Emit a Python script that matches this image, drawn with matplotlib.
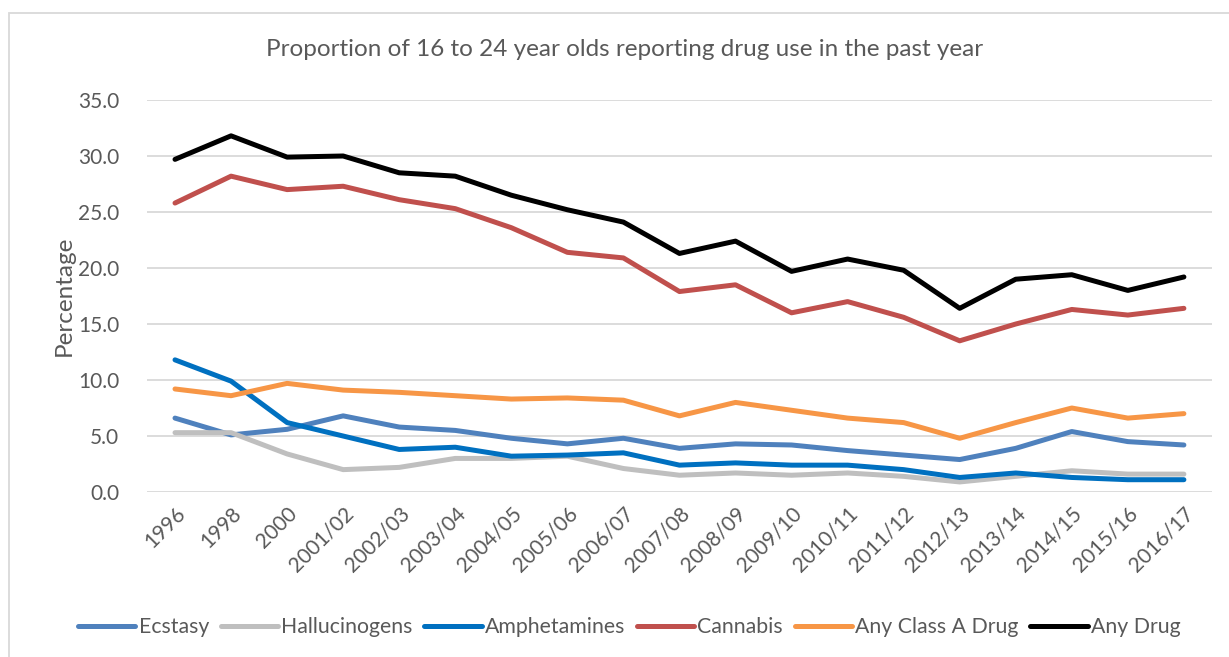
import matplotlib.pyplot as plt
from matplotlib.patches import Rectangle

# Survey years (x categories)
years = ["1996", "1998", "2000", "2001/02", "2002/03", "2003/04", "2004/05",
         "2005/06", "2006/07", "2007/08", "2008/09", "2009/10", "2010/11",
         "2011/12", "2012/13", "2013/14", "2014/15", "2015/16", "2016/17"]

# Percent reporting use in past year
ecstasy = [6.6, 5.1, 5.6, 6.8, 5.8, 5.5, 4.8, 4.3, 4.8, 3.9, 4.3, 4.2, 3.7,
           3.3, 2.9, 3.9, 5.4, 4.5, 4.2]
hallucinogens = [5.3, 5.3, 3.4, 2.0, 2.2, 3.0, 3.0, 3.2, 2.1, 1.5, 1.7, 1.5,
                 1.7, 1.4, 0.9, 1.4, 1.9, 1.6, 1.6]
amphetamines = [11.8, 9.9, 6.2, 5.0, 3.8, 4.0, 3.2, 3.3, 3.5, 2.4, 2.6, 2.4,
                2.4, 2.0, 1.3, 1.7, 1.3, 1.1, 1.1]
cannabis = [25.8, 28.2, 27.0, 27.3, 26.1, 25.3, 23.6, 21.4, 20.9, 17.9, 18.5,
            16.0, 17.0, 15.6, 13.5, 15.0, 16.3, 15.8, 16.4]
class_a = [9.2, 8.6, 9.7, 9.1, 8.9, 8.6, 8.3, 8.4, 8.2, 6.8, 8.0, 7.3, 6.6,
           6.2, 4.8, 6.2, 7.5, 6.6, 7.0]
any_drug = [29.7, 31.8, 29.9, 30.0, 28.5, 28.2, 26.5, 25.2, 24.1, 21.3, 22.4,
            19.7, 20.8, 19.8, 16.4, 19.0, 19.4, 18.0, 19.2]

series = [
    ("Ecstasy", ecstasy, "#4F81BD"),
    ("Hallucinogens", hallucinogens, "#BFBFBF"),
    ("Amphetamines", amphetamines, "#0070C0"),
    ("Cannabis", cannabis, "#C0504D"),
    ("Any Class A Drug", class_a, "#F79646"),
    ("Any Drug", any_drug, "#000000"),
]

plt.rcParams['font.family'] = ['Lato', 'DejaVu Sans']
text_color = "#595959"

fig = plt.figure(figsize=(12.29, 6.57), dpi=100)
ax = fig.add_axes([0.1196, 0.2511, 0.8665, 0.5967])

x = list(range(len(years)))
for name, vals, color in series:
    ax.plot(x, vals, color=color, linewidth=3.6, label=name,
            solid_capstyle='round', solid_joinstyle='round')

ax.set_xlim(-0.5, len(years) - 0.5)
ax.set_ylim(0, 35)
ax.set_yticks([0, 5, 10, 15, 20, 25, 30, 35])
ax.set_yticklabels([f"{v:.1f}" for v in [0, 5, 10, 15, 20, 25, 30, 35]])
ax.set_xticks(x)
ax.set_xticklabels(years, rotation=45, ha='right', rotation_mode='anchor')

ax.grid(axis='y', color='#D9D9D9', linewidth=1.3)
ax.set_axisbelow(True)
for s in ax.spines.values():
    s.set_visible(False)
ax.tick_params(length=0, labelsize=15, labelcolor=text_color)
ax.tick_params(axis='y', pad=20)
ax.tick_params(axis='x', pad=8)

ax.set_ylabel("Percentage", fontsize=17.5, color=text_color, labelpad=2)
fig.text(0.508, 0.924, "Proportion of 16 to 24 year olds reporting drug use in the past year",
         ha='center', va='center', fontsize=17.5, color=text_color)

leg = fig.legend(loc='center', bbox_to_anchor=(0.512, 0.045), ncol=6, frameon=False,
                 fontsize=15.3, handlelength=2.7, handletextpad=0.15, columnspacing=0.55)
for t in leg.get_texts():
    t.set_color(text_color)

# light frame around the chart
fig.patches.append(Rectangle((0.007, -0.05), 1.2, 1.03, transform=fig.transFigure,
                             fill=False, edgecolor='#D9D9D9', linewidth=1.3))

fig.savefig("out.png", dpi=100)
